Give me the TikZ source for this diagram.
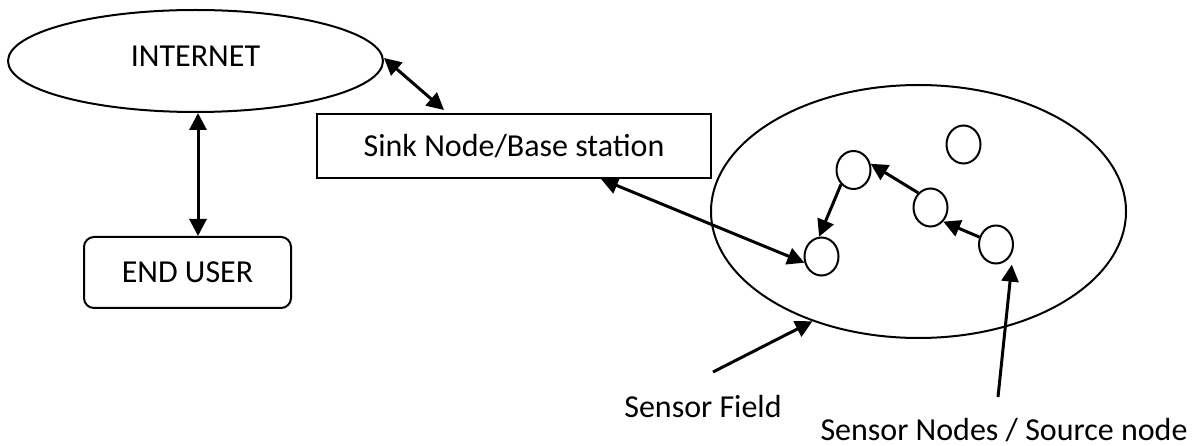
\documentclass[tikz,border=0pt]{standalone}
\usepackage{fontspec}
\setmainfont{Carlito}
\usetikzlibrary{shapes.geometric,arrows.meta}
\begin{document}
\begin{tikzpicture}[x=1pt,y=-1pt,
  outline/.style={draw=black, line width=2pt, inner sep=0pt},
  oval/.style={outline, ellipse},
  mote/.style={outline, ellipse, minimum width=34pt, minimum height=38pt},
  link/.style={line width=3pt, -{Triangle[length=17pt,width=17pt]}},
  duplex/.style={line width=3pt, {Triangle[length=17pt,width=17pt]}-{Triangle[length=17pt,width=17pt]}},
  every node/.style={font=\fontsize{32}{38}\selectfont}
]
\useasboundingbox (0,0) rectangle (1194,446);

% network side
\node[oval, minimum width=375pt, minimum height=102pt, text height=20pt, text depth=8pt] (inet) at (195.5,61) {INTERNET};
\node[outline, rounded corners=10pt, minimum width=207pt, minimum height=71pt] (user) at (187.5,272.5) {END USER};
\node[outline, minimum width=394pt, minimum height=64pt] (sink) at (514,146) {Sink Node/Base station};

% sensor field and its nodes
\node[oval, minimum width=415pt, minimum height=253pt] (field) at (918.5,211.5) {};
\node[mote] (c1) at (963.5,144.5) {};
\node[mote] (c2) at (853.5,170) {};
\node[mote] (c3) at (930.5,207.5) {};
\node[mote] (c4) at (996,244.5) {};
\node[mote] (c5) at (821.5,256.5) {};

% captions
\node[anchor=base] (fieldlbl) at (703,417) {Sensor Field};
\node[anchor=base] (srclbl) at (1004,440) {Sensor Nodes / Source node};
\coordinate (fieldtail) at (713,372);
\coordinate (srctail) at (998,397);

% links
\draw[duplex] ([xshift=2.5pt]inet.south) -- ([xshift=10.5pt]user.north);
\draw[duplex] ([yshift=3pt]inet.east) -- ([xshift=128pt,yshift=3pt]sink.north west);
\draw[duplex] ([xshift=285pt]sink.south west) -- (c5.200);
\draw[link] (c3.130) -- (c2.20);
\draw[link] (c4.156) -- (c3.-48);
\draw[link] (c2.229) -- (c5.97);
\draw[link] (fieldtail) -- (field.226);
\draw[link] (srctail) -- ([shift={(4pt,-5pt)}]c4.-52);
\end{tikzpicture}
\end{document}
